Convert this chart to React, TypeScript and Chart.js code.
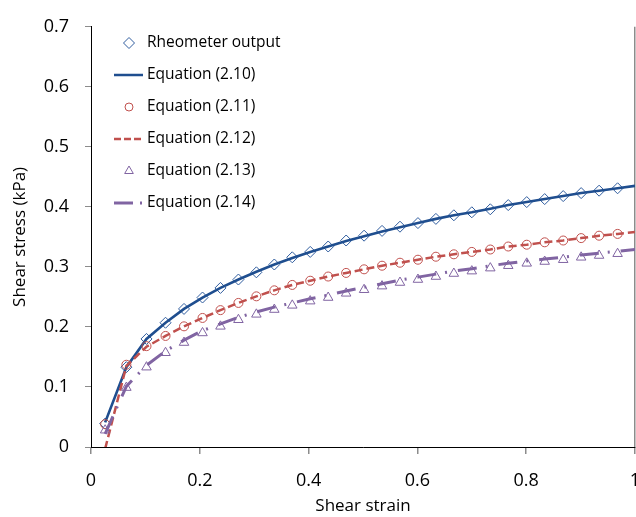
import React, { useEffect, useRef } from "react";
import { Chart, registerables } from "chart.js";

Chart.register(...registerables);

const strain = [0.026, 0.065, 0.102, 0.137, 0.171, 0.205, 0.238, 0.271, 0.304, 0.337, 0.370, 0.403, 0.436, 0.469, 0.502, 0.535, 0.568, 0.601, 0.634, 0.667, 0.700, 0.734, 0.767, 0.801, 0.834, 0.868, 0.901, 0.934, 0.968];
const strainLine = [...strain, 1.0];

const rheometer = [0.039, 0.133, 0.180, 0.207, 0.230, 0.249, 0.265, 0.279, 0.291, 0.304, 0.316, 0.325, 0.334, 0.344, 0.352, 0.360, 0.367, 0.373, 0.380, 0.386, 0.391, 0.396, 0.403, 0.408, 0.413, 0.418, 0.423, 0.427, 0.431];
const eq210 = [0.041, 0.133, 0.180, 0.207, 0.230, 0.249, 0.265, 0.279, 0.292, 0.304, 0.315, 0.325, 0.334, 0.343, 0.351, 0.359, 0.366, 0.373, 0.380, 0.386, 0.391, 0.397, 0.403, 0.408, 0.413, 0.418, 0.423, 0.427, 0.431, 0.435];
const eq211 = [0.038, 0.137, 0.168, 0.185, 0.201, 0.215, 0.228, 0.240, 0.251, 0.261, 0.270, 0.277, 0.284, 0.290, 0.296, 0.302, 0.307, 0.312, 0.317, 0.321, 0.325, 0.329, 0.334, 0.337, 0.341, 0.344, 0.348, 0.352, 0.355];
const eq212 = [-0.003, 0.135, 0.167, 0.185, 0.201, 0.215, 0.228, 0.240, 0.251, 0.261, 0.270, 0.277, 0.284, 0.290, 0.296, 0.302, 0.307, 0.312, 0.317, 0.321, 0.325, 0.329, 0.334, 0.337, 0.341, 0.344, 0.348, 0.352, 0.355, 0.358];
const eq213 = [0.028, 0.099, 0.133, 0.157, 0.174, 0.190, 0.201, 0.212, 0.221, 0.229, 0.236, 0.243, 0.249, 0.256, 0.262, 0.268, 0.274, 0.279, 0.284, 0.289, 0.293, 0.298, 0.302, 0.306, 0.309, 0.312, 0.316, 0.319, 0.322];
const eq214 = [0.022, 0.101, 0.136, 0.160, 0.178, 0.194, 0.205, 0.216, 0.225, 0.233, 0.240, 0.247, 0.253, 0.260, 0.266, 0.272, 0.278, 0.283, 0.288, 0.293, 0.297, 0.302, 0.306, 0.310, 0.313, 0.316, 0.320, 0.323, 0.326, 0.329];

const xTicks = [0, 0.2, 0.4, 0.6, 0.8, 1];
const yTicks = [0, 0.1, 0.2, 0.3, 0.4, 0.5, 0.6, 0.7];

const legendLabels = ["Rheometer output", "Equation (2.10)", "Equation (2.11)", "Equation (2.12)", "Equation (2.13)", "Equation (2.14)"];

const BLUE = "#1F4E8F";
const BLUE_M = "#2F5C9E";
const RED = "#C0504D";
const PURPLE = "#8064A2";
const FONT = "'Open Sans', sans-serif";

const pts = (xs: number[], ys: number[]) => ys.map((y, i) => ({ x: xs[i], y }));

const legendPlugin = {
  id: "customLegend",
  afterDraw(chart: any) {
    const ctx = chart.ctx as CanvasRenderingContext2D;
    const ys = [43, 75, 107, 139, 171, 203];
    const cx = 129;
    ctx.save();
    ys.forEach((y, i) => {
      ctx.save();
      ctx.setLineDash([]);
      if (i === 0) {
        ctx.strokeStyle = BLUE_M;
        ctx.lineWidth = 1;
        const r = 5.5;
        ctx.beginPath();
        ctx.moveTo(cx - r, y);
        ctx.lineTo(cx, y - r);
        ctx.lineTo(cx + r, y);
        ctx.lineTo(cx, y + r);
        ctx.closePath();
        ctx.stroke();
      } else if (i === 1) {
        ctx.strokeStyle = BLUE;
        ctx.lineWidth = 2.5;
        ctx.beginPath();
        ctx.moveTo(114, y);
        ctx.lineTo(143, y);
        ctx.stroke();
      } else if (i === 2) {
        ctx.strokeStyle = RED;
        ctx.lineWidth = 1;
        ctx.beginPath();
        ctx.arc(cx, y, 4, 0, Math.PI * 2);
        ctx.stroke();
      } else if (i === 3) {
        ctx.strokeStyle = RED;
        ctx.lineWidth = 2.5;
        ctx.setLineDash([7, 3]);
        ctx.beginPath();
        ctx.moveTo(114, y);
        ctx.lineTo(141, y);
        ctx.stroke();
      } else if (i === 4) {
        ctx.strokeStyle = PURPLE;
        ctx.lineWidth = 1;
        const r = 5;
        ctx.beginPath();
        ctx.moveTo(cx, y - r);
        ctx.lineTo(cx + r * 0.866, y + r * 0.5);
        ctx.lineTo(cx - r * 0.866, y + r * 0.5);
        ctx.closePath();
        ctx.stroke();
      } else {
        ctx.strokeStyle = PURPLE;
        ctx.lineWidth = 3;
        ctx.beginPath();
        ctx.moveTo(114, y);
        ctx.lineTo(133, y);
        ctx.stroke();
        ctx.beginPath();
        ctx.moveTo(140, y);
        ctx.lineTo(142, y);
        ctx.stroke();
      }
      ctx.restore();
      ctx.fillStyle = "#000";
      ctx.font = `15.5px ${FONT}`;
      ctx.textBaseline = "middle";
      ctx.textAlign = "left";
      ctx.fillText(legendLabels[i], 147, y);
    });
    ctx.restore();
  },
};

export default function App() {
  const ref = useRef<HTMLCanvasElement | null>(null);

  useEffect(() => {
    if (!ref.current) return;
    const chart = new Chart(ref.current, {
      type: "scatter",
      data: {
        datasets: [
          {
            label: legendLabels[0],
            data: pts(strain, rheometer),
            showLine: false,
            pointStyle: "rectRot",
            pointRadius: 5.5,
            pointBorderWidth: 1,
            pointBorderColor: BLUE_M,
            pointBackgroundColor: "rgba(0,0,0,0)",
            order: 6,
          },
          {
            label: legendLabels[1],
            data: pts(strainLine, eq210),
            showLine: true,
            pointRadius: 0,
            borderColor: BLUE,
            borderWidth: 2.6,
            order: 5,
          },
          {
            label: legendLabels[2],
            data: pts(strain, eq211),
            showLine: false,
            pointStyle: "circle",
            pointRadius: 4.5,
            pointBorderWidth: 1,
            pointBorderColor: RED,
            pointBackgroundColor: "rgba(0,0,0,0)",
            order: 4,
          },
          {
            label: legendLabels[3],
            data: pts(strainLine, eq212),
            showLine: true,
            pointRadius: 0,
            borderColor: RED,
            borderWidth: 2.5,
            borderDash: [8, 4],
            order: 3,
          },
          {
            label: legendLabels[4],
            data: pts(strain, eq213),
            showLine: false,
            pointStyle: "triangle",
            pointRadius: 5.5,
            pointBorderWidth: 1,
            pointBorderColor: PURPLE,
            pointBackgroundColor: "rgba(0,0,0,0)",
            order: 2,
          },
          {
            label: legendLabels[5],
            data: pts(strainLine, eq214),
            showLine: true,
            pointRadius: 0,
            borderColor: PURPLE,
            borderWidth: 3,
            borderDash: [19, 9, 2, 11],
            order: 1,
          },
        ],
      },
      options: {
        animation: false,
        responsive: false,
        devicePixelRatio: 1,
        layout: { padding: { top: 15, right: 25, left: 0, bottom: 0 } },
        plugins: {
          legend: { display: false },
          tooltip: { enabled: false },
          title: { display: false },
        },
        scales: {
          x: {
            type: "linear",
            min: 0,
            max: 1,
            afterBuildTicks: (s: any) => {
              s.ticks = xTicks.map((v) => ({ value: v }));
            },
            afterFit: (s: any) => {
              s.height = 70;
              s.paddingLeft = 0;
              s.paddingRight = 0;
            },
            ticks: {
              color: "#000",
              font: { family: FONT, size: 18 },
              padding: 16,
              maxRotation: 0,
              autoSkip: false,
              callback: (v: any) => String(Math.round(Number(v) * 10) / 10),
            },
            grid: {
              drawOnChartArea: true,
              color: (c: any) => (c.tick && Math.abs(c.tick.value - 1) < 1e-9 ? "#8c8c8c" : "rgba(0,0,0,0)"),
              tickColor: "#8c8c8c",
              tickLength: 7,
              lineWidth: 1.5,
            },
            border: { display: true, color: "#000", width: 1 },
            title: {
              display: true,
              text: "Shear strain",
              color: "#000",
              font: { family: FONT, size: 17 },
              padding: { top: 0, bottom: 1 },
            },
          },
          y: {
            type: "linear",
            min: 0,
            max: 0.7,
            afterBuildTicks: (s: any) => {
              s.ticks = yTicks.map((v) => ({ value: v }));
            },
            afterFit: (s: any) => {
              s.width = 91;
            },
            ticks: {
              color: "#000",
              font: { family: FONT, size: 18 },
              padding: 16,
              autoSkip: false,
              callback: (v: any) => String(Math.round(Number(v) * 10) / 10),
            },
            grid: {
              drawOnChartArea: false,
              tickColor: "#8c8c8c",
              tickLength: 6,
            },
            border: { display: true, color: "#000", width: 1 },
            title: {
              display: true,
              text: "Shear stress (kPa)",
              color: "#000",
              font: { family: FONT, size: 17 },
              padding: { top: 10, bottom: 0 },
            },
          },
        },
      },
      plugins: [legendPlugin],
    } as any);
    return () => chart.destroy();
  }, []);

  return (
    <div style={{ position: "absolute", left: 0, top: 0, width: 636, height: 517, overflow: "hidden", background: "#fff" }}>
      <canvas ref={ref} width={660} height={517} style={{ width: 660, height: 517, display: "block" }} />
    </div>
  );
}
